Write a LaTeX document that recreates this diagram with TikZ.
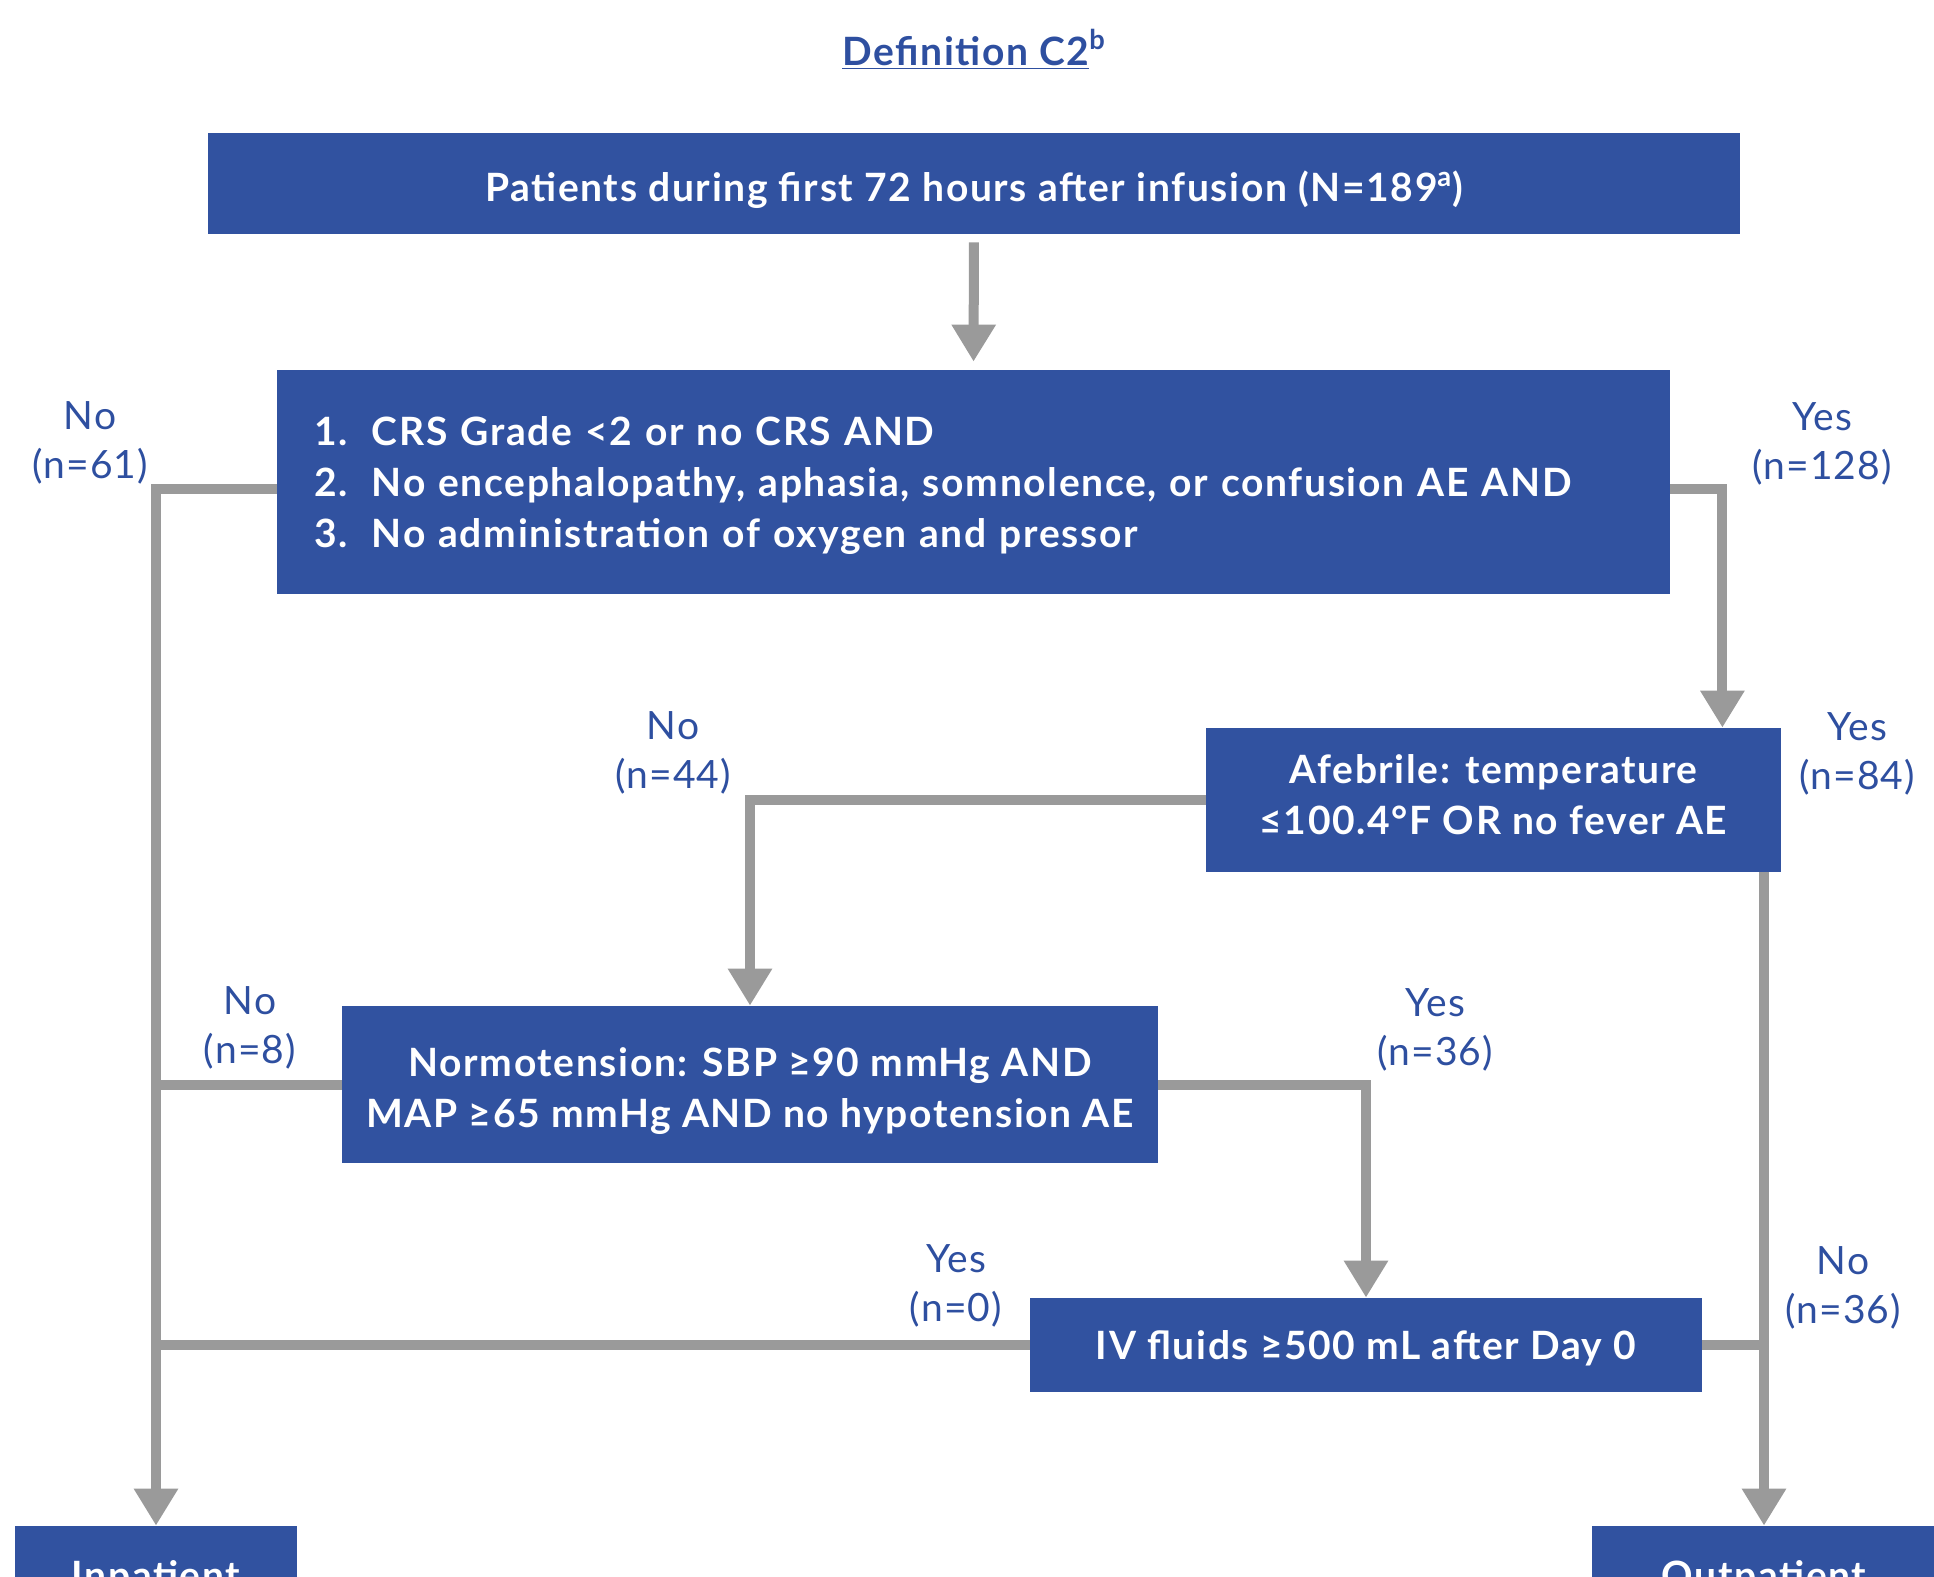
\documentclass[tikz,border=0pt]{standalone}
\usepackage{fontspec}
\setmainfont{Lato}[LetterSpace=3.0, BoldFeatures={LetterSpace=4.2}]
\usetikzlibrary{arrows.meta,calc}
\definecolor{boxblue}{HTML}{3152A0}
\definecolor{lblblue}{HTML}{2E4FA0}
\definecolor{conngray}{HTML}{9A9A9A}
\begin{document}
\begin{tikzpicture}[x=0.5pt,y=-0.5pt,
  box/.style={rectangle, fill=boxblue, text=white, inner sep=0pt, font=\fontsize{19.5}{25.5}\selectfont\bfseries, align=center, text height=14pt, text depth=0pt},
  twoline/.style={text height=39.5pt, text depth=0pt},
  threeline/.style={text depth=51pt},
  lbl/.style={text=lblblue, inner sep=0pt, anchor=north, align=center, font=\fontsize{19.5}{24.5}\selectfont},
  conn/.style={draw=conngray, line width=5pt},
  arr/.style={conn, -{Triangle[length=18.5pt,width=21pt]}}]
\path[use as bounding box, clip] (0,0) rectangle (1934,1576);
\node[anchor=base, inner sep=0pt, text=lblblue, font=\fontsize{19.5}{22}\selectfont\bfseries] (title) at (974,65) {\underline{Definition C2}\textsuperscript{b}};
\node[box, text height=17.7pt, minimum width=766pt, minimum height=50.5pt] (top) at (974,183.5) {Patients during first 72 hours after infusion (N=189\textsuperscript{a})};
\node[box, threeline, minimum width=696.5pt, minimum height=112pt, text width=659.5pt, align=left] (crit) at (973.5,482) {\makebox[29pt][l]{1.}CRS Grade <2 or no CRS AND\\ \makebox[29pt][l]{2.}No encephalopathy, aphasia, somnolence, or confusion AE AND\\ \makebox[29pt][l]{3.}No administration of oxygen and pressor};
\node[box, twoline, text depth=5pt, minimum width=287.5pt, minimum height=72pt] (afeb) at (1493.5,800) {Afebrile: temperature\\≤100.4°F OR no fever AE};
\node[box, twoline, text height=43.2pt, minimum width=408pt, minimum height=78.5pt] (normo) at (750,1084.5) {Normotension: SBP ≥90 mmHg AND\\MAP ≥65 mmHg AND no hypotension AE};
\node[box, minimum width=336pt, minimum height=47pt] (iv) at (1366,1345) {IV fluids ≥500 mL after Day 0};
\node[box, minimum width=141pt, minimum height=49.5pt] (inpat) at (156,1575.5) {Inpatient};
\node[box, minimum width=172pt, minimum height=49.5pt] (outpat) at (1764,1575.5) {Outpatient};
\draw[arr, shorten <=4pt, shorten >=4pt] (top.south) -- (crit.north);
\draw[arr] ($(crit.east)+(0,7)$) -| ($(afeb.north east)+(-59,0)$);
\draw[arr] ($(crit.west)+(0,7)$) -| (inpat.north);
\draw[arr] (afeb.west) -| (normo.north);
\draw[arr] (afeb.south -| outpat.north) -- (outpat.north);
\draw[conn] (normo.west) -- (normo.west -| inpat.north);
\draw[arr] (normo.east) -| (iv.north);
\draw[conn] (iv.west) -- (iv.west -| inpat.north);
\draw[conn] (iv.east) -- (iv.east -| outpat.north);
\node[lbl] (l61) at (90,401) {No\\(n=61)};
\node[lbl] (l128) at (1822,402) {Yes\\(n=128)};
\node[lbl] (l44) at (673,711) {No\\(n=44)};
\node[lbl] (l84) at (1857,712) {Yes\\(n=84)};
\node[lbl] (l8) at (250,986) {No\\(n=8)};
\node[lbl] (l36a) at (1435,988) {Yes\\(n=36)};
\node[lbl] (l0) at (956,1244) {Yes\\(n=0)};
\node[lbl] (l36b) at (1843,1246) {No\\(n=36)};
\end{tikzpicture}
\end{document}
